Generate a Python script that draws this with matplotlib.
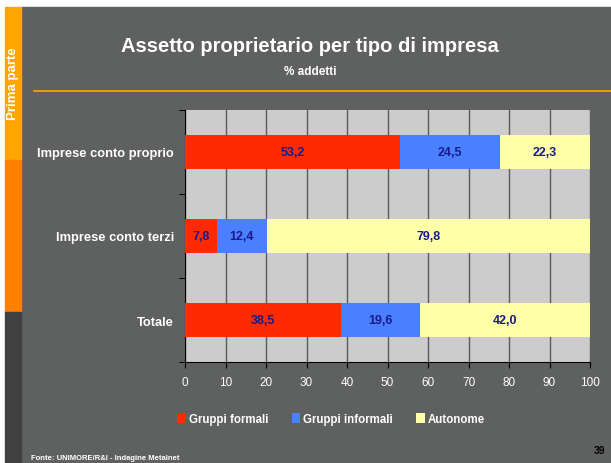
import numpy as np
import matplotlib.pyplot as plt

categorie = ['Imprese conto proprio', 'Imprese conto terzi', 'Totale']
gruppi_formali = [53.2, 7.8, 38.5]
gruppi_informali = [24.5, 12.4, 19.6]
autonome = [22.3, 79.8, 42.0]
serie = ['Gruppi formali', 'Gruppi informali', 'Autonome']
colori = ['#FF2A00', '#4A80FF', '#FFFFAA']

plt.rcParams['font.family'] = ['Liberation Sans', 'DejaVu Sans']

fig = plt.figure(figsize=(6.11, 4.64), dpi=100)
fig.patch.set_facecolor('white')
W, H = 611, 464

# sfondo e barra laterale
fig.patches.append(plt.Rectangle((21/W, 0), 1, 1 - 8/H, transform=fig.transFigure, color='#5F6060', zorder=-10))
fig.patches.append(plt.Rectangle((5/W, 1 - 161/H), 16/W, 153/H, transform=fig.transFigure, color='#FFA500', zorder=-10))
fig.patches.append(plt.Rectangle((5/W, 1 - 313/H), 16/W, 152/H, transform=fig.transFigure, color='#FF7F00', zorder=-10))
fig.patches.append(plt.Rectangle((5/W, 0), 16/W, 1 - 313/H, transform=fig.transFigure, color='#404040', zorder=-10))
fig.lines.append(plt.Line2D([34/W, 1], [1 - 92/H, 1 - 92/H], transform=fig.transFigure, color='#FFA500', lw=1.2))

fig.text(13/W, 1 - 84/H, 'Prima parte', rotation=90, color='white', fontsize=9.5, fontweight='bold', ha='center', va='center')
fig.text(310/W, 1 - 46/H, 'Assetto proprietario per tipo di impresa', color='white', fontsize=14.5, fontweight='bold', ha='center', va='center')
fig.text(310/W, 1 - 72/H, '% addetti', color='white', fontsize=8.5, fontweight='bold', ha='center', va='center')
fig.text(31/W, 1 - 459/H, 'Fonte: UNIMORE/R&I - Indagine Metalnet', color='white', fontsize=5.5, fontweight='bold', ha='left', va='center')
fig.text(605/W, 1 - 451/H, '39', color='black', fontsize=7.5, fontweight='bold', ha='right', va='center')

ax = fig.add_axes([185/W, 1 - 363/H, 405/W, 252/H])
ax.set_zorder(5)
ax.set_facecolor('#CCCCCC')
y = np.arange(len(categorie))
left = np.zeros(len(categorie))
for valori, nome, col in zip([gruppi_formali, gruppi_informali, autonome], serie, colori):
    ax.barh(y, valori, left=left, height=0.405, color=col, label=nome, zorder=3)
    for yi, l, v in zip(y, left, valori):
        ax.text(l + v / 2, yi, f'{v:.1f}'.replace('.', ','), ha='center', va='center',
                color='#1A1A8C', fontsize=9, fontweight='bold', zorder=4)
    left = left + np.array(valori)

ax.set_xlim(0, 100)
ax.set_ylim(2.5, -0.5)
ax.set_xticks(range(0, 101, 10))
ax.xaxis.grid(True, color='#5A5A5A', lw=1, zorder=1)
ax.set_yticks([-0.5, 0.5, 1.5, 2.5], minor=False)
ax.set_yticks(y, minor=True)
ax.set_yticklabels([], minor=False)
ax.set_yticklabels(categorie, minor=True)
ax.tick_params(axis='y', which='minor', length=0, pad=8, labelcolor='white', labelsize=9.3)
ax.tick_params(axis='y', which='major', length=4, color='black')
ax.tick_params(axis='x', length=4, color='black', labelcolor='white', labelsize=8.5, pad=6)
for lab in ax.get_yticklabels(minor=True):
    lab.set_fontweight('bold')
for s in ['top', 'right']:
    ax.spines[s].set_visible(False)
for s in ['left', 'bottom']:
    ax.spines[s].set_color('black')

leg = fig.legend(loc='center', bbox_to_anchor=(331/W, 1 - 420/H), ncol=3, frameon=False,
                 fontsize=8.3, handlelength=0.75, handleheight=0.9, handletextpad=0.25, columnspacing=2.0,
                 labelcolor='white')
for t in leg.get_texts():
    t.set_fontweight('bold')

fig.savefig('out.png', dpi=100, facecolor=fig.get_facecolor())
